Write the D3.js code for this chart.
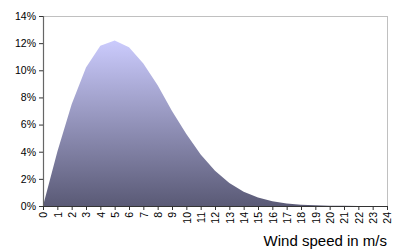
<!DOCTYPE html>
<html>
<head>
<meta charset="utf-8">
<script src="https://cdn.jsdelivr.net/npm/d3@7"></script>
<style>
  body { margin: 0; background: #fff; }
  svg { display: block; font-family: "Liberation Sans", Arial, sans-serif; }
</style>
</head>
<body>
<svg width="400" height="250"></svg>
<script>
// wind speed bins (m/s) and frequency in %
const speeds = d3.range(0, 25);
const freq = [0, 4.0, 7.5, 10.2, 11.8, 12.2, 11.7, 10.5, 8.9, 7.0, 5.3, 3.8, 2.6,
              1.7, 1.05, 0.62, 0.35, 0.19, 0.1, 0.05, 0.02, 0.01, 0, 0, 0];
const yTicks = [0, 2, 4, 6, 8, 10, 12, 14];
const xTitle = "Wind speed in m/s";

const margin = { top: 16, right: 13, bottom: 44, left: 43 },
  width = 400 - margin.left - margin.right,
  height = 250 - margin.top - margin.bottom;

const svg = d3.select('svg');
const g = svg.append('g')
  .attr('transform', `translate(${margin.left},${margin.top})`);

const x = d3.scaleLinear().domain([0, 24]).range([0, width]);
const y = d3.scaleLinear().domain([0, 14]).range([height, 0]);

// gradient spans the filled shape, light lavender at the peak
const grad = svg.append('defs').append('linearGradient')
  .attr('id', 'fillGrad')
  .attr('x1', 0).attr('y1', 0).attr('x2', 0).attr('y2', 1);
grad.append('stop').attr('offset', '0%').attr('stop-color', '#cbcbfd');
grad.append('stop').attr('offset', '100%').attr('stop-color', '#5a5a76');

// frame lines (top and right)
g.append('line')
  .attr('x1', 0).attr('x2', width).attr('y1', 0.5).attr('y2', 0.5)
  .attr('stroke', '#c0c0c0');
g.append('line')
  .attr('x1', width + 0.5).attr('x2', width + 0.5).attr('y1', 0).attr('y2', height)
  .attr('stroke', '#c0c0c0');

const area = d3.area()
  .x((d, i) => x(speeds[i]))
  .y0(height)
  .y1(d => y(d));

g.append('path')
  .datum(freq)
  .attr('fill', 'url(#fillGrad)')
  .attr('d', area);

// y axis
const yAxis = g.append('g')
  .call(d3.axisLeft(y).tickValues(yTicks).tickFormat(d => d + '%').tickSize(4).tickPadding(3));
yAxis.select('.domain').attr('stroke', '#666').attr('stroke-width', 1.2);
yAxis.selectAll('.tick line').attr('stroke', '#333');
yAxis.selectAll('text').attr('font-size', 10.5).attr('fill', '#000')
  .attr('font-family', '"Liberation Sans", Arial, sans-serif');

// x axis
const xAxis = g.append('g')
  .attr('transform', `translate(0,${height})`)
  .call(d3.axisBottom(x).tickValues(speeds).tickSize(4).tickSizeOuter(0));
xAxis.select('.domain').attr('stroke', '#333');
xAxis.selectAll('.tick line').attr('stroke', '#333');
xAxis.selectAll('text')
  .attr('font-size', 10.5)
  .attr('fill', '#000')
  .attr('font-family', '"Liberation Sans", Arial, sans-serif')
  .attr('transform', 'rotate(-90)')
  .attr('text-anchor', 'end')
  .attr('x', -6)
  .attr('y', 0)
  .attr('dy', '0.35em');

svg.append('text')
  .attr('x', 387)
  .attr('y', 246)
  .attr('text-anchor', 'end')
  .attr('font-size', 15)
  .attr('fill', '#000')
  .text(xTitle);
</script>
</body>
</html>
